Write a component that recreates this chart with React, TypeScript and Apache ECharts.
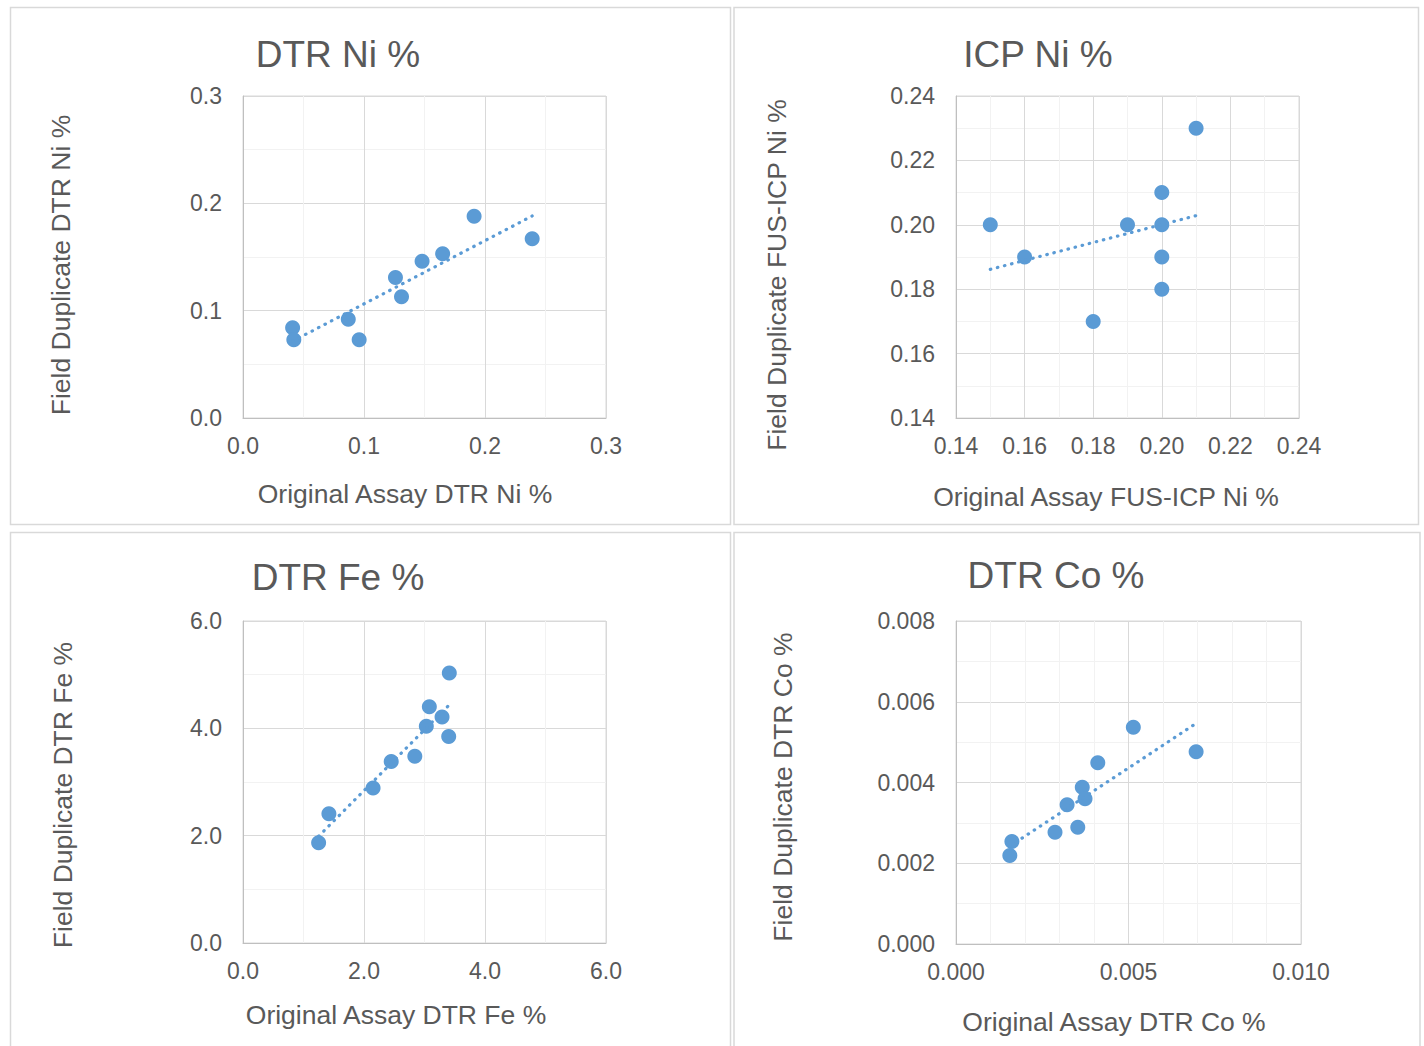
import React, { useEffect, useRef } from "react";
import * as echarts from "echarts";

// ---- Data ----
const niOriginal = [0.041, 0.042, 0.087, 0.096, 0.126, 0.131, 0.148, 0.165, 0.191, 0.239];
const niDuplicate = [0.084, 0.073, 0.092, 0.073, 0.131, 0.113, 0.146, 0.153, 0.188, 0.167];

const icpOriginal = [0.15, 0.16, 0.18, 0.19, 0.2, 0.2, 0.2, 0.2, 0.21];
const icpDuplicate = [0.2, 0.19, 0.17, 0.2, 0.21, 0.2, 0.19, 0.18, 0.23];

const feOriginal = [1.25, 1.42, 2.15, 2.45, 2.84, 3.03, 3.08, 3.29, 3.4, 3.41];
const feDuplicate = [1.87, 2.41, 2.89, 3.38, 3.48, 4.04, 4.4, 4.21, 3.85, 5.03];

const coOriginal = [0.00162, 0.00156, 0.00287, 0.00322, 0.00353, 0.00366, 0.00374, 0.00411, 0.00514, 0.00696];
const coDuplicate = [0.00254, 0.00219, 0.00277, 0.00345, 0.00289, 0.00388, 0.0036, 0.00449, 0.00537, 0.00476];

const titles = ["DTR Ni %", "ICP Ni %", "DTR Fe %", "DTR Co %"];
const xTitles = [
  "Original Assay DTR Ni %",
  "Original Assay FUS-ICP Ni %",
  "Original Assay DTR Fe %",
  "Original Assay DTR Co %",
];
const yTitles = [
  "Field Duplicate DTR Ni %",
  "Field Duplicate FUS-ICP Ni %",
  "Field Duplicate DTR Fe %",
  "Field Duplicate DTR Co %",
];

const BLUE = "#5b9bd5";
const TEXT = "#595959";
const FONT = "'Liberation Sans', Arial, sans-serif";

function linearFit(xs: number[], ys: number[]) {
  const n = xs.length;
  const mx = xs.reduce((a, b) => a + b, 0) / n;
  const my = ys.reduce((a, b) => a + b, 0) / n;
  let sxy = 0;
  let sxx = 0;
  for (let i = 0; i < n; i++) {
    sxy += (xs[i] - mx) * (ys[i] - my);
    sxx += (xs[i] - mx) * (xs[i] - mx);
  }
  const slope = sxy / sxx;
  const intercept = my - slope * mx;
  const x0 = Math.min(...xs);
  const x1 = Math.max(...xs);
  return [
    [x0, intercept + slope * x0],
    [x1, intercept + slope * x1],
  ];
}

type Panel = {
  xs: number[];
  ys: number[];
  grid: { left: number; top: number; width: number; height: number };
  x: { min: number; max: number; interval: number; minor: number; dec: number };
  y: { min: number; max: number; interval: number; minor: number; dec: number };
  title: [number, number];
  xTitle: [number, number];
  yTitle: [number, number];
};

const panels: Panel[] = [
  {
    xs: niOriginal,
    ys: niDuplicate,
    grid: { left: 243, top: 96, width: 363, height: 322 },
    x: { min: 0, max: 0.3, interval: 0.1, minor: 2, dec: 1 },
    y: { min: 0, max: 0.3, interval: 0.1, minor: 2, dec: 1 },
    title: [338, 54],
    xTitle: [405, 494],
    yTitle: [61, 265],
  },
  {
    xs: icpOriginal,
    ys: icpDuplicate,
    grid: { left: 956, top: 96, width: 343, height: 322 },
    x: { min: 0.14, max: 0.24, interval: 0.02, minor: 2, dec: 2 },
    y: { min: 0.14, max: 0.24, interval: 0.02, minor: 2, dec: 2 },
    title: [1038, 54],
    xTitle: [1106, 497],
    yTitle: [777, 275],
  },
  {
    xs: feOriginal,
    ys: feDuplicate,
    grid: { left: 243, top: 621, width: 363, height: 322 },
    x: { min: 0, max: 6, interval: 2, minor: 2, dec: 1 },
    y: { min: 0, max: 6, interval: 2, minor: 2, dec: 1 },
    title: [338, 577],
    xTitle: [396, 1015],
    yTitle: [63, 795],
  },
  {
    xs: coOriginal,
    ys: coDuplicate,
    grid: { left: 956, top: 621, width: 345, height: 323 },
    x: { min: 0, max: 0.01, interval: 0.005, minor: 5, dec: 3 },
    y: { min: 0, max: 0.008, interval: 0.002, minor: 2, dec: 3 },
    title: [1056, 575],
    xTitle: [1114, 1022],
    yTitle: [783, 787],
  },
];

function axisCfg(a: Panel["x"], gridIndex: number, isX: boolean) {
  return {
    type: "value",
    gridIndex,
    min: a.min,
    max: a.max,
    interval: a.interval,
    axisLine: { show: true, lineStyle: { color: "#bfbfbf", width: 1 } },
    axisTick: { show: false },
    minorTick: { show: false, splitNumber: a.minor },
    splitLine: { show: true, lineStyle: { color: "#d9d9d9", width: 1 } },
    minorSplitLine: { show: true, lineStyle: { color: "#f2f2f2", width: 1 } },
    axisLabel: {
      color: TEXT,
      fontFamily: FONT,
      fontSize: 23,
      margin: isX ? 16 : 21,
      formatter: (v: number) => v.toFixed(a.dec),
    },
  };
}

export default function App() {
  const ref = useRef<HTMLDivElement>(null);
  useEffect(() => {
    if (!ref.current) return;
    const chart = echarts.init(ref.current, undefined, { renderer: "svg" });

    const graphic: any[] = [
      { type: "rect", shape: { x: 10.5, y: 7.5, width: 720, height: 517 }, style: { fill: "#fff", stroke: "#d9d9d9", lineWidth: 1.5 }, z: -10 },
      { type: "rect", shape: { x: 734, y: 7.5, width: 684.5, height: 517 }, style: { fill: "#fff", stroke: "#d9d9d9", lineWidth: 1.5 }, z: -10 },
      { type: "rect", shape: { x: 10.5, y: 532.5, width: 720, height: 530 }, style: { fill: "#fff", stroke: "#d9d9d9", lineWidth: 1.5 }, z: -10 },
      { type: "rect", shape: { x: 734, y: 532.5, width: 686, height: 530 }, style: { fill: "#fff", stroke: "#d9d9d9", lineWidth: 1.5 }, z: -10 },
    ];

    const series: any[] = [];
    panels.forEach((p, i) => {
      graphic.push({
        type: "text",
        x: p.title[0],
        y: p.title[1],
        style: { text: titles[i], fill: TEXT, font: `37px ${FONT}`, align: "center", verticalAlign: "middle" },
      });
      graphic.push({
        type: "text",
        x: p.xTitle[0],
        y: p.xTitle[1],
        style: { text: xTitles[i], fill: TEXT, font: `26.5px ${FONT}`, align: "center", verticalAlign: "middle" },
      });
      graphic.push({
        type: "text",
        x: p.yTitle[0],
        y: p.yTitle[1],
        rotation: Math.PI / 2,
        style: { text: yTitles[i], fill: TEXT, font: `26.5px ${FONT}`, align: "center", verticalAlign: "middle" },
      });
      series.push({
        type: "scatter",
        xAxisIndex: i,
        yAxisIndex: i,
        data: p.xs.map((x, k) => [x, p.ys[k]]),
        symbol: "circle",
        symbolSize: 15,
        itemStyle: { color: BLUE, opacity: 1 },
        z: 2,
      });
      series.push({
        type: "line",
        xAxisIndex: i,
        yAxisIndex: i,
        data: linearFit(p.xs, p.ys),
        showSymbol: false,
        symbol: "none",
        lineStyle: { color: BLUE, width: 3.2, type: [0.5, 6.8], cap: "round" },
        z: 3,
      });
    });

    chart.setOption({
      animation: false,
      backgroundColor: "#ffffff",
      textStyle: { fontFamily: FONT },
      grid: panels.map((p) => ({ ...p.grid, show: true, borderColor: "#d9d9d9", borderWidth: 1, backgroundColor: "transparent" })),
      xAxis: panels.map((p, i) => axisCfg(p.x, i, true)),
      yAxis: panels.map((p, i) => axisCfg(p.y, i, false)),
      graphic,
      series,
    });
    return () => chart.dispose();
  }, []);
  return (
    <div
      ref={ref}
      style={{ position: "fixed", left: 0, top: 0, width: 1424, height: 1046, background: "#fff" }}
    />
  );
}
